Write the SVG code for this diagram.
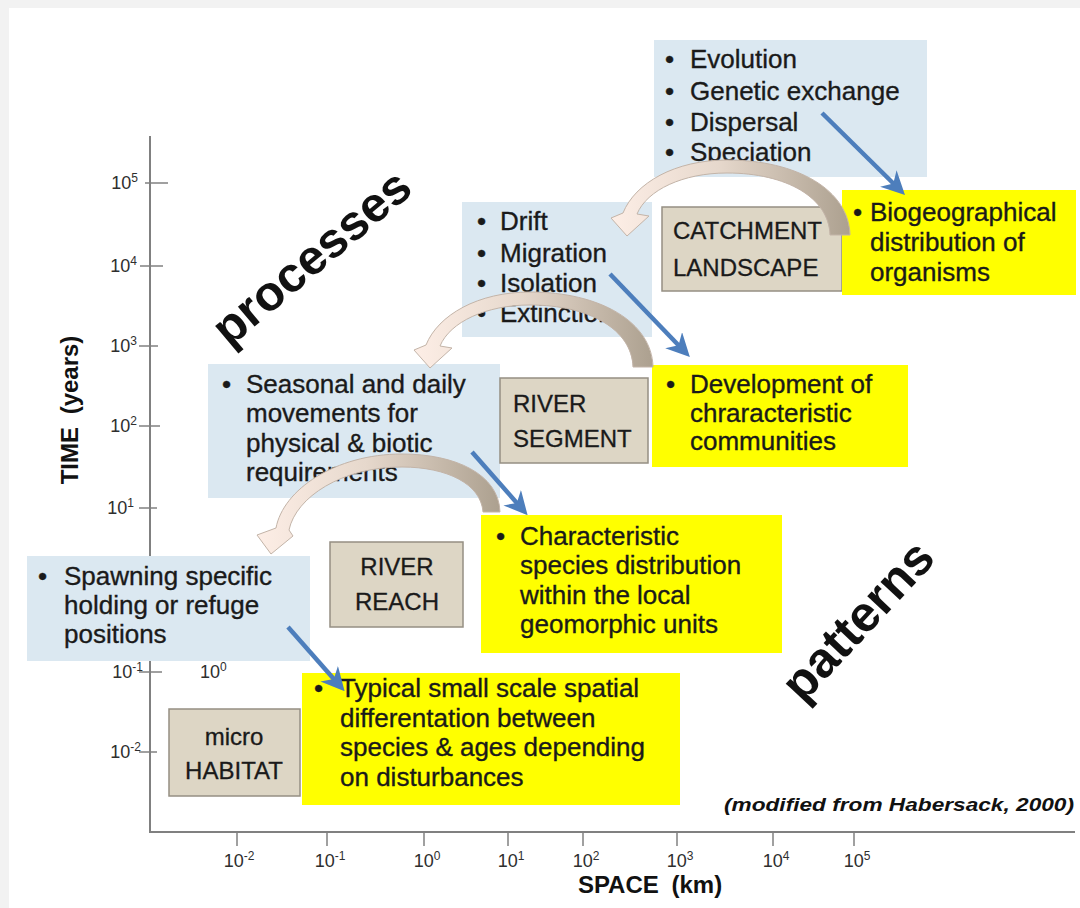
<svg xmlns="http://www.w3.org/2000/svg" width="1080" height="908" viewBox="0 0 1080 908">
  <style>
    .t { font-family: "Liberation Sans", Arial, sans-serif; font-size: 26px; fill: #1a1a1a; stroke: #1a1a1a; stroke-width: 0.35; }
    .tan { font-family: "Liberation Sans", Arial, sans-serif; font-size: 24px; fill: #1a1a1a; stroke: #1a1a1a; stroke-width: 0.3; }
    .ax { font-family: "Liberation Sans", Arial, sans-serif; font-size: 18px; fill: #2e2e2e; }
    .sup { font-size: 12px; }
    .big { font-family: "Liberation Sans", Arial, sans-serif; font-weight: bold; fill: #111; }
    .blue { fill: #dbe8f1; }
    .tanbox { fill: #ddd6c5; stroke: #958f83; stroke-width: 1.5; }
    .yel { fill: #ffff00; }
    .axis { stroke: #808080; stroke-width: 2; fill: none; }
    .tick { stroke: #808080; stroke-width: 1.5; }
    .ptr { stroke: #4d7ebc; stroke-width: 4.5; fill: none; marker-end: url(#head); }
    .bend { fill: url(#bendFill); stroke: #c3b4a8; stroke-width: 1; }
  </style>
  <defs>
    <marker id="head" viewBox="0 0 10 10" refX="7" refY="5" markerWidth="5.2" markerHeight="5.2" orient="auto">
      <path d="M0,0 L10,5 L0,10 L3,5 Z" fill="#4d7ebc"/>
    </marker>
    <linearGradient id="bendFill" x1="0" y1="0" x2="1" y2="0">
      <stop offset="0" stop-color="#fdeee6"/>
      <stop offset="0.45" stop-color="#e6d8cc"/>
      <stop offset="1" stop-color="#aca08f"/>
    </linearGradient>
    <!-- curved block arrow: tail on the right, head pointing down-left -->
    <path id="bendShape" d="M653,367 C652,322 600,292 530,292 C478,292 438,315 426,345 L414,350 L430,368 L452,348 L440,346 C450,322 486,305 530,305 C590,305 632,330 633,367 Z"/>
  </defs>

  <!-- page -->
  <rect width="1080" height="908" fill="#f2f2f2"/>
  <rect x="9" y="8" width="1071" height="900" fill="#ffffff"/>

  <!-- axes -->
  <g id="axes">
    <line class="axis" x1="150" y1="136" x2="150" y2="832"/>
    <line class="axis" x1="149" y1="832" x2="1075" y2="832"/>
    <g class="tick">
      <line x1="145" y1="183" x2="168" y2="183"/>
      <line x1="140" y1="266" x2="163" y2="266"/>
      <line x1="139" y1="346" x2="158" y2="346"/>
      <line x1="139" y1="426" x2="160" y2="426"/>
      <line x1="139" y1="508" x2="157" y2="508"/>
      <line x1="139" y1="672" x2="162" y2="672"/>
      <line x1="139" y1="752" x2="157" y2="752"/>
      <line x1="237" y1="832" x2="237" y2="846"/>
      <line x1="327" y1="832" x2="327" y2="846"/>
      <line x1="424" y1="832" x2="424" y2="846"/>
      <line x1="508" y1="832" x2="508" y2="846"/>
      <line x1="583" y1="832" x2="583" y2="846"/>
      <line x1="677" y1="832" x2="677" y2="846"/>
      <line x1="773" y1="832" x2="773" y2="846"/>
      <line x1="854" y1="832" x2="854" y2="846"/>
    </g>
    <g class="ax" text-anchor="end">
      <text x="138" y="189">10<tspan class="sup" dy="-7">5</tspan></text>
      <text x="137" y="272">10<tspan class="sup" dy="-7">4</tspan></text>
      <text x="137" y="352">10<tspan class="sup" dy="-7">3</tspan></text>
      <text x="137" y="432">10<tspan class="sup" dy="-7">2</tspan></text>
      <text x="134" y="514">10<tspan class="sup" dy="-7">1</tspan></text>
      <text x="143" y="678">10<tspan class="sup" dy="-7">-1</tspan></text>
      <text x="141" y="758">10<tspan class="sup" dy="-7">-2</tspan></text>
    </g>
    <text class="ax" x="200" y="678">10<tspan class="sup" dy="-7">0</tspan></text>
    <g class="ax" text-anchor="middle">
      <text x="239" y="867">10<tspan class="sup" dy="-7">-2</tspan></text>
      <text x="330" y="867">10<tspan class="sup" dy="-7">-1</tspan></text>
      <text x="427" y="867">10<tspan class="sup" dy="-7">0</tspan></text>
      <text x="511" y="867">10<tspan class="sup" dy="-7">1</tspan></text>
      <text x="586" y="867">10<tspan class="sup" dy="-7">2</tspan></text>
      <text x="680" y="867">10<tspan class="sup" dy="-7">3</tspan></text>
      <text x="776" y="867">10<tspan class="sup" dy="-7">4</tspan></text>
      <text x="857" y="867">10<tspan class="sup" dy="-7">5</tspan></text>
    </g>
    <text class="big" x="650" y="893" font-size="24" text-anchor="middle" word-spacing="6">SPACE (km)</text>
    <text class="big" transform="translate(78,410) rotate(-90)" font-size="24" text-anchor="middle" word-spacing="6">TIME (years)</text>
    <text class="big" x="1074" y="811" font-size="18" font-style="italic" text-anchor="end" textLength="350" lengthAdjust="spacingAndGlyphs">(modified from Habersack, 2000)</text>
  </g>

  <!-- big diagonal words -->
  <text class="big" font-size="49" text-anchor="middle" transform="translate(322,270) rotate(-40)">processes</text>
  <text class="big" font-size="50" text-anchor="middle" transform="translate(870,632) rotate(-47)">patterns</text>

  <!-- process boxes -->
  <g id="proc-evolution">
    <rect class="blue" x="654" y="40" width="273" height="137"/>
    <g class="t">
      <text x="665" y="68">•</text><text x="690" y="68">Evolution</text>
      <text x="665" y="100">•</text><text x="690" y="100">Genetic exchange</text>
      <text x="665" y="131">•</text><text x="690" y="131">Dispersal</text>
      <text x="665" y="161">•</text><text x="690" y="161">Speciation</text>
    </g>
  </g>
  <g id="proc-drift">
    <rect class="blue" x="462" y="202" width="190" height="135"/>
    <g class="t">
      <text x="477" y="230">•</text><text x="500" y="230">Drift</text>
      <text x="477" y="262">•</text><text x="500" y="262">Migration</text>
      <text x="477" y="292">•</text><text x="500" y="292">Isolation</text>
      <text x="477" y="322">•</text><text x="500" y="322">Extinction</text>
    </g>
  </g>
  <g id="proc-seasonal">
    <rect class="blue" x="208" y="364" width="292" height="134"/>
    <g class="t">
      <text x="222" y="393">•</text><text x="246" y="393">Seasonal and daily</text>
      <text x="246" y="422">movements for</text>
      <text x="246" y="452">physical &amp; biotic</text>
      <text x="246" y="481">requirements</text>
    </g>
  </g>
  <g id="proc-spawning">
    <rect class="blue" x="27" y="556" width="283" height="105"/>
    <g class="t">
      <text x="38" y="585">•</text><text x="64" y="585">Spawning specific</text>
      <text x="64" y="614">holding or refuge</text>
      <text x="64" y="643">positions</text>
    </g>
  </g>

  <!-- scale boxes -->
  <g id="scale-catchment">
    <rect class="tanbox" x="662" y="207" width="180" height="84"/>
    <text class="tan" x="673" y="239">CATCHMENT</text>
    <text class="tan" x="673" y="276">LANDSCAPE</text>
  </g>
  <g id="scale-segment">
    <rect class="tanbox" x="500" y="378" width="148" height="85"/>
    <text class="tan" x="513" y="412">RIVER</text>
    <text class="tan" x="513" y="447">SEGMENT</text>
  </g>
  <g id="scale-reach">
    <rect class="tanbox" x="330" y="542" width="133" height="85"/>
    <text class="tan" x="397" y="575" text-anchor="middle">RIVER</text>
    <text class="tan" x="397" y="610" text-anchor="middle">REACH</text>
  </g>
  <g id="scale-micro">
    <rect class="tanbox" x="169" y="709" width="131" height="87"/>
    <text class="tan" x="234" y="745" text-anchor="middle">micro</text>
    <text class="tan" x="234" y="779" text-anchor="middle">HABITAT</text>
  </g>

  <!-- pattern boxes -->
  <g id="pat-biogeo">
    <rect class="yel" x="842" y="190" width="234" height="105"/>
    <g class="t">
      <text x="853" y="221">•</text><text x="870" y="221">Biogeographical</text>
      <text x="870" y="251">distribution of</text>
      <text x="870" y="281">organisms</text>
    </g>
  </g>
  <g id="pat-development">
    <rect class="yel" x="652" y="365" width="256" height="102"/>
    <g class="t">
      <text x="666" y="393">•</text><text x="690" y="393">Development of</text>
      <text x="690" y="422">chraracteristic</text>
      <text x="690" y="450">communities</text>
    </g>
  </g>
  <g id="pat-characteristic">
    <rect class="yel" x="481" y="515" width="301" height="138"/>
    <g class="t">
      <text x="496" y="545">•</text><text x="520" y="545">Characteristic</text>
      <text x="520" y="574">species distribution</text>
      <text x="520" y="604">within the local</text>
      <text x="520" y="633">geomorphic units</text>
    </g>
  </g>
  <g id="pat-typical">
    <rect class="yel" x="302" y="673" width="378" height="132"/>
    <g class="t">
      <text x="314" y="697">•</text><text x="340" y="697">Typical small scale spatial</text>
      <text x="340" y="727">differentation between</text>
      <text x="340" y="756">species &amp; ages depending</text>
      <text x="340" y="786">on disturbances</text>
    </g>
  </g>

  <!-- connectors -->
  <g id="connectors">
    <use href="#bendShape" class="bend" transform="translate(197,-132)"/>
    <use href="#bendShape" class="bend"/>
    <path class="bend" d="M500,512 C499,474 455,454 402,454 C335,454 283,490 276,528 L257,535 L271,554 L293,536 L289,530 C296,497 342,467 402,467 C447,467 481,484 483,512 Z"/>
    <line class="ptr" x1="822" y1="113" x2="900" y2="190"/>
    <line class="ptr" x1="610" y1="274" x2="685" y2="352"/>
    <line class="ptr" x1="472" y1="452" x2="523" y2="510"/>
    <line class="ptr" x1="288" y1="627" x2="340" y2="686"/>
  </g>
</svg>
